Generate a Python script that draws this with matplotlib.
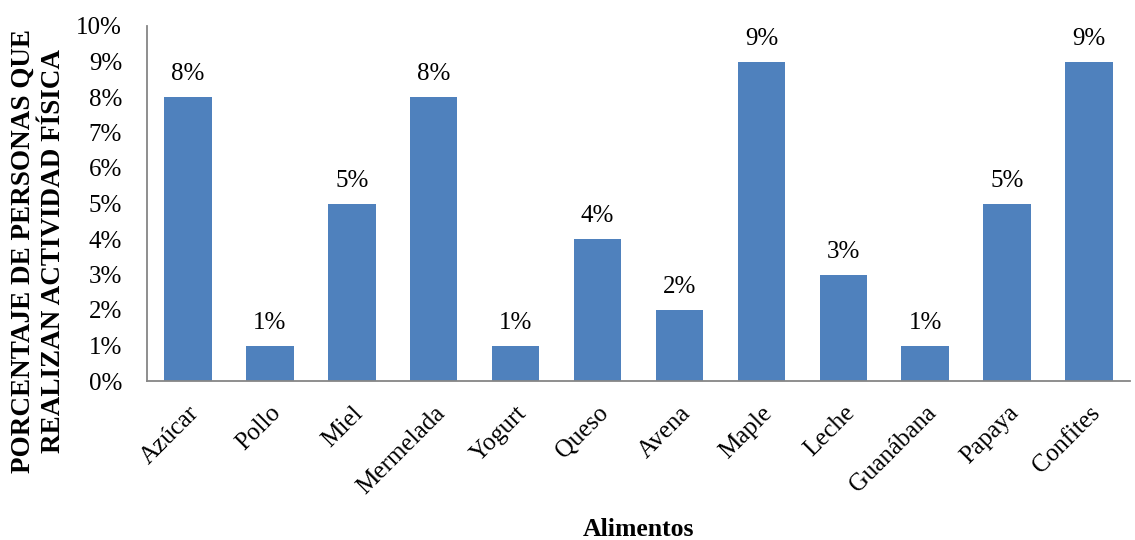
import matplotlib
matplotlib.use("Agg")
import matplotlib.pyplot as plt
from matplotlib.ticker import FuncFormatter, MultipleLocator

categories = ["Azúcar", "Pollo", "Miel", "Mermelada", "Yogurt", "Queso",
              "Avena", "Maple", "Leche", "Guanábana", "Papaya", "Confites"]
values = [8, 1, 5, 8, 1, 4, 2, 9, 3, 1, 5, 9]  # percent

plt.rcParams["font.family"] = ["Liberation Serif", "DejaVu Serif"]

W, H = 1135, 540
fig = plt.figure(figsize=(W / 100, H / 100), dpi=100)
ax = fig.add_axes([147 / W, 1 - 381 / H, (1130 - 147) / W, (381 - 26) / H])

x = range(len(categories))
ax.bar(x, values, width=0.58, color="#4F81BD", zorder=2)

for xi, v in zip(x, values):
    ax.annotate(f"{v}%", (xi, v), xytext=(0, 12), textcoords="offset points",
                ha="center", va="baseline", fontsize=18)

ax.set_xlim(-0.5, len(categories) - 0.5)
ax.set_ylim(0, 10)
ax.yaxis.set_major_locator(MultipleLocator(1))
ax.yaxis.set_major_formatter(FuncFormatter(lambda v, p: f"{v:.0f}%"))

ax.set_xticks(list(x))
ax.set_xticklabels(categories, rotation=45, ha="right", rotation_mode="anchor",
                   fontsize=18)
ax.tick_params(axis="x", length=0, pad=15)
ax.tick_params(axis="y", length=0, pad=18, labelsize=18)

for side in ("top", "right"):
    ax.spines[side].set_visible(False)
for side in ("left", "bottom"):
    ax.spines[side].set_color("#868686")
    ax.spines[side].set_linewidth(1.3)

fig.text((147 + 1130) / 2 / W, 1 - 536 / H, "Alimentos",
         ha="center", va="baseline", fontsize=18.5, fontweight="bold")
fig.text(38.5 / W, 1 - 251 / H,
         "PORCENTAJE DE PERSONAS QUE\nREALIZAN ACTIVIDAD FÍSICA",
         rotation=90, ha="center", va="center", multialignment="center",
         fontsize=19.5, fontweight="bold", linespacing=1.3)

fig.savefig("out.png", dpi=100)
